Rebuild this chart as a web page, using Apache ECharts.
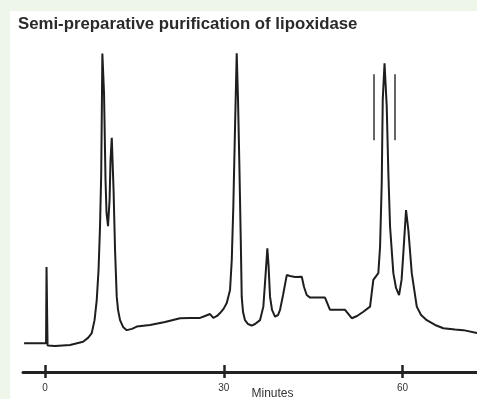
<!DOCTYPE html>
<html>
<head>
<meta charset="utf-8">
<script src="https://cdn.jsdelivr.net/npm/echarts@6/dist/echarts.min.js"></script>
<style>
  html, body { margin: 0; padding: 0; }
  #chart { width: 477px; height: 399px; }
</style>
</head>
<body>
<div id="chart"></div>
<script>
// retention time (min)
var minutes = [
  -3.52, 0.17, 0.25, 0.42, 1.68, 4.20, 6.38, 7.22, 7.84, 8.31,
  8.68, 8.98, 9.23, 9.43, 9.62, 9.90, 10.15, 10.32, 10.57, 10.83,
  10.99, 11.20, 11.50, 11.75, 12.03, 12.25, 12.59, 13.09, 13.71, 14.60,
  15.39, 17.62, 20.14, 22.66, 24.34, 26.01, 26.85, 27.69, 28.25, 28.87,
  29.37, 29.96, 30.50, 31.05, 31.34, 31.60, 31.89, 32.17, 32.39, 32.61,
  32.85, 33.01, 33.23, 33.56, 34.07, 34.69, 35.25, 36.08, 36.64, 37.01,
  37.31, 37.51, 37.76, 38.10, 38.60, 39.11, 39.44, 39.95, 40.57, 41.12,
  41.96, 43.09, 43.47, 43.92, 44.48, 46.99, 47.83, 49.51, 50.35, 51.48,
  52.37, 53.42, 54.55, 55.10, 55.94, 56.23, 56.51, 56.68, 56.98, 57.35,
  57.62, 57.91, 58.46, 58.91, 59.42, 59.84, 60.14, 60.59, 60.98, 61.55,
  62.39, 63.11, 64.07, 65.46, 66.85, 68.82, 70.21, 72.51
];
// detector signal (relative units, tallest peak ~100)
var signal = [
  8.9, 8.9, 32.6, 8.2, 8.1, 8.4, 9.4, 10.6, 12.1, 16.1,
  22.4, 31.7, 45.3, 61.8, 98.9, 86.6, 59.6, 49.4, 45.3, 53.4,
  65.8, 72.7, 56.5, 37.9, 23.4, 19.3, 16.1, 14.0, 13.0, 13.4,
  14.1, 14.6, 15.5, 16.7, 16.8, 16.8, 17.4, 18.0, 16.8, 17.4,
  18.3, 19.6, 21.4, 25.5, 34.8, 51.3, 76.2, 99.0, 84.5, 64.9,
  41.0, 23.4, 18.6, 16.1, 14.9, 14.4, 14.9, 16.1, 20.3, 30.1,
  38.4, 33.2, 23.4, 19.3, 17.2, 17.7, 19.3, 23.9, 30.1, 29.8,
  29.5, 29.6, 26.4, 23.9, 23.1, 23.1, 19.3, 19.3, 19.3, 16.7,
  17.4, 18.7, 20.3, 28.6, 30.7, 38.9, 58.7, 84.5, 95.9, 82.4,
  61.8, 45.1, 30.7, 26.1, 23.9, 28.6, 37.0, 50.3, 44.1, 30.7,
  20.3, 17.7, 16.1, 14.6, 13.6, 13.2, 13.0, 12.1
];
// fraction collection cut marks (min) and their vertical extent
var cutMarks = [55.22, 58.72];
var cutFrom = 72.0;
var cutTo = 92.5;
var tickValues = [0, 30, 60];

var chart = echarts.init(document.getElementById("chart"));

var points = minutes.map(function (t, i) {
  return [t, signal[i]];
});

var marks = cutMarks.map(function (t) {
  return [{ coord: [t, cutFrom] }, { coord: [t, cutTo] }];
});

chart.setOption({
  backgroundColor: "#eef5e9",
  animation: false,
  graphic: [
    {
      type: "rect",
      left: 10,
      top: 11,
      shape: { width: 467, height: 388 },
      style: { fill: "#ffffff" },
      silent: true,
      z: -10
    }
  ],
  title: {
    text: "Semi-preparative purification of lipoxidase",
    left: 13,
    top: 11,
    textStyle: {
      fontFamily: "Arial, sans-serif",
      fontSize: 16.8,
      fontWeight: "bold",
      color: "#2a2a2a"
    }
  },
  grid: {
    left: 23,
    right: 0,
    top: 50,
    bottom: 27,
    outerBoundsMode: "none"
  },
  xAxis: [
    {
      type: "value",
      min: -3.7,
      max: 72.5,
      name: "Minutes",
      nameLocation: "middle",
      nameGap: 16,
      nameMoveOverlap: false,
      nameTextStyle: {
        fontFamily: "Arial, sans-serif",
        fontSize: 12,
        color: "#333",
        padding: [0, 0, 0, 45]
      },
      splitLine: { show: false },
      axisLine: { show: true, lineStyle: { color: "#222", width: 3 } },
      axisTick: {
        show: true,
        length: 6,
        customValues: tickValues,
        lineStyle: { color: "#222", width: 2.5 }
      },
      axisLabel: {
        customValues: tickValues,
        margin: 11,
        fontFamily: "Arial, sans-serif",
        fontSize: 10,
        color: "#333"
      }
    },
    {
      type: "value",
      min: -3.7,
      max: 72.5,
      position: "bottom",
      splitLine: { show: false },
      axisLine: { show: false },
      axisLabel: { show: false },
      axisTick: {
        show: true,
        inside: true,
        length: 7,
        customValues: tickValues,
        lineStyle: { color: "#222", width: 2.5 }
      }
    }
  ],
  yAxis: {
    type: "value",
    min: 0,
    max: 100,
    show: false,
    splitLine: { show: false }
  },
  series: [
    {
      type: "line",
      data: points,
      symbol: "none",
      lineStyle: { color: "#1e1e1e", width: 2 },
      markLine: {
        silent: true,
        symbol: ["none", "none"],
        label: { show: false },
        lineStyle: { color: "#333", width: 1.5, type: "solid" },
        data: marks
      }
    }
  ]
});
</script>
</body>
</html>
